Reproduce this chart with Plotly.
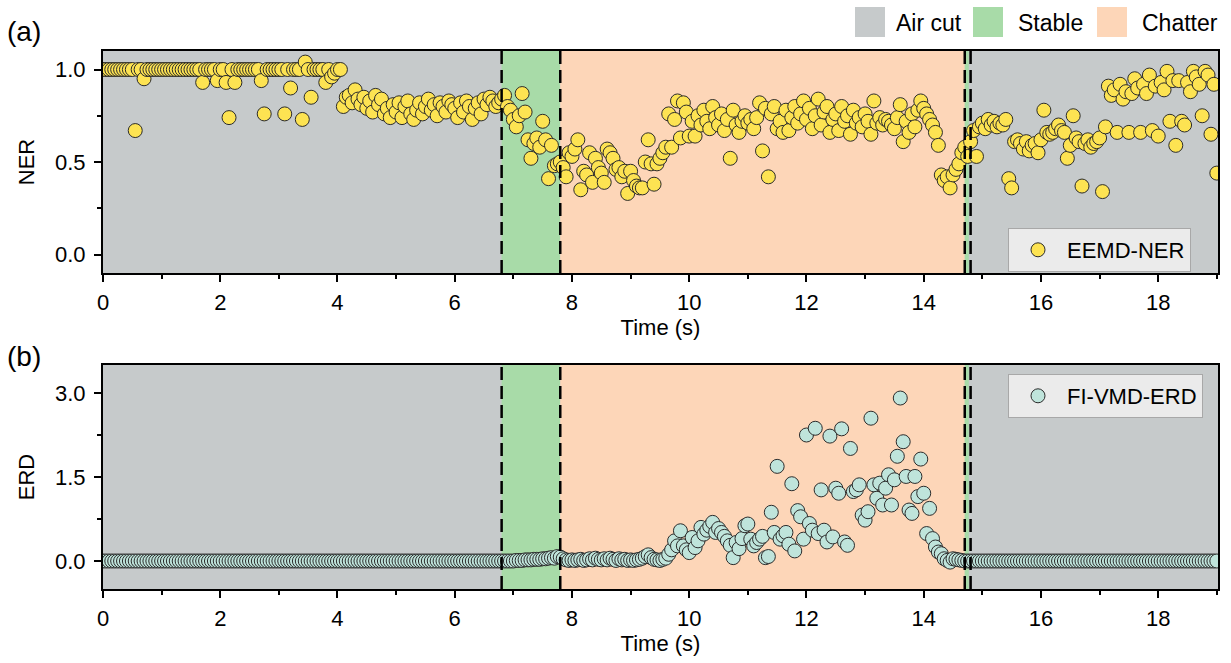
import plotly.graph_objects as go

# ---------------- data ----------------
time_s = [
    0.00, 0.05, 0.10, 0.15, 0.20, 0.25, 0.30, 0.35, 0.40, 0.45, 0.50, 0.55, 0.60, 0.65, 0.70, 0.75, 0.80, 0.85, 0.90, 0.95,
    1.00, 1.05, 1.10, 1.15, 1.20, 1.25, 1.30, 1.35, 1.40, 1.45, 1.50, 1.55, 1.60, 1.65, 1.70, 1.75, 1.80, 1.85, 1.90, 1.95,
    2.00, 2.05, 2.10, 2.15, 2.20, 2.25, 2.30, 2.35, 2.40, 2.45, 2.50, 2.55, 2.60, 2.65, 2.70, 2.75, 2.80, 2.85, 2.90, 2.95,
    3.00, 3.05, 3.10, 3.15, 3.20, 3.25, 3.30, 3.35, 3.40, 3.45, 3.50, 3.55, 3.60, 3.65, 3.70, 3.75, 3.80, 3.85, 3.90, 3.95,
    4.00, 4.05, 4.10, 4.15, 4.20, 4.25, 4.30, 4.35, 4.40, 4.45, 4.50, 4.55, 4.60, 4.65, 4.70, 4.75, 4.80, 4.85, 4.90, 4.95,
    5.00, 5.05, 5.10, 5.15, 5.20, 5.25, 5.30, 5.35, 5.40, 5.45, 5.50, 5.55, 5.60, 5.65, 5.70, 5.75, 5.80, 5.85, 5.90, 5.95,
    6.00, 6.05, 6.10, 6.15, 6.20, 6.25, 6.30, 6.35, 6.40, 6.45, 6.50, 6.55, 6.60, 6.65, 6.70, 6.75, 6.80, 6.85, 6.90, 6.95,
    7.00, 7.05, 7.10, 7.15, 7.20, 7.25, 7.30, 7.35, 7.40, 7.45, 7.50, 7.55, 7.60, 7.65, 7.70, 7.75, 7.80, 7.85, 7.90, 7.95,
    8.00, 8.05, 8.10, 8.15, 8.20, 8.25, 8.30, 8.35, 8.40, 8.45, 8.50, 8.55, 8.60, 8.65, 8.70, 8.75, 8.80, 8.85, 8.90, 8.95,
    9.00, 9.05, 9.10, 9.15, 9.20, 9.25, 9.30, 9.35, 9.40, 9.45, 9.50, 9.55, 9.60, 9.65, 9.70, 9.75, 9.80, 9.85, 9.90, 9.95,
    10.00, 10.05, 10.10, 10.15, 10.20, 10.25, 10.30, 10.35, 10.40, 10.45, 10.50, 10.55, 10.60, 10.65, 10.70, 10.75, 10.80, 10.85, 10.90, 10.95,
    11.00, 11.05, 11.10, 11.15, 11.20, 11.25, 11.30, 11.35, 11.40, 11.45, 11.50, 11.55, 11.60, 11.65, 11.70, 11.75, 11.80, 11.85, 11.90, 11.95,
    12.00, 12.05, 12.10, 12.15, 12.20, 12.25, 12.30, 12.35, 12.40, 12.45, 12.50, 12.55, 12.60, 12.65, 12.70, 12.75, 12.80, 12.85, 12.90, 12.95,
    13.00, 13.05, 13.10, 13.15, 13.20, 13.25, 13.30, 13.35, 13.40, 13.45, 13.50, 13.55, 13.60, 13.65, 13.70, 13.75, 13.80, 13.85, 13.90, 13.95,
    14.00, 14.05, 14.10, 14.15, 14.20, 14.25, 14.30, 14.35, 14.40, 14.45, 14.50, 14.55, 14.60, 14.65, 14.70, 14.75, 14.80, 14.85, 14.90, 14.95,
    15.00, 15.05, 15.10, 15.15, 15.20, 15.25, 15.30, 15.35, 15.40, 15.45, 15.50, 15.55, 15.60, 15.65, 15.70, 15.75, 15.80, 15.85, 15.90, 15.95,
    16.00, 16.05, 16.10, 16.15, 16.20, 16.25, 16.30, 16.35, 16.40, 16.45, 16.50, 16.55, 16.60, 16.65, 16.70, 16.75, 16.80, 16.85, 16.90, 16.95,
    17.00, 17.05, 17.10, 17.15, 17.20, 17.25, 17.30, 17.35, 17.40, 17.45, 17.50, 17.55, 17.60, 17.65, 17.70, 17.75, 17.80, 17.85, 17.90, 17.95,
    18.00, 18.05, 18.10, 18.15, 18.20, 18.25, 18.30, 18.35, 18.40, 18.45, 18.50, 18.55, 18.60, 18.65, 18.70, 18.75, 18.80, 18.85, 18.90, 18.95,
    19.00,
]

eemd_ner = [
    1.0, 1.0, 1.0, 1.0, 1.0, 1.0, 1.0, 1.0, 1.0, 1.0, 1.0, 0.67, 1.0, 1.0, 0.95, 1.0, 1.0, 1.0, 1.0, 1.0,
    1.0, 1.0, 1.0, 1.0, 1.0, 1.0, 1.0, 1.0, 1.0, 1.0, 1.0, 1.0, 1.0, 1.0, 0.93, 1.0, 1.0, 1.0, 1.0, 0.94,
    1.0, 1.0, 0.93, 0.74, 1.0, 0.93, 1.0, 1.0, 1.0, 1.0, 1.0, 1.0, 1.0, 1.0, 0.94, 0.76, 1.0, 1.0, 1.0, 1.0,
    1.0, 1.0, 0.76, 1.0, 0.90, 1.0, 1.0, 1.0, 0.73, 1.04, 1.0, 0.85, 1.0, 1.0, 1.0, 1.0, 0.93, 1.0, 0.96, 0.98,
    1.0, 1.0, 0.80, 0.85, 0.86, 0.82, 0.89, 0.84, 0.81, 0.85, 0.79, 0.83, 0.77, 0.86, 0.81, 0.84, 0.76, 0.79, 0.74, 0.81,
    0.77, 0.82, 0.74, 0.80, 0.83, 0.76, 0.73, 0.78, 0.82, 0.76, 0.80, 0.84, 0.78, 0.81, 0.75, 0.82, 0.80, 0.77, 0.83, 0.81,
    0.79, 0.74, 0.82, 0.77, 0.83, 0.80, 0.73, 0.79, 0.82, 0.76, 0.84, 0.81, 0.85, 0.83, 0.80, 0.82, 0.84, 0.86, 0.80, 0.78,
    0.73, 0.69, 0.75, 0.87, 0.77, 0.62, 0.52, 0.60, 0.63, 0.58, 0.72, 0.62, 0.41, 0.59, 0.48, 0.49, 0.50, 0.47, 0.42, 0.55,
    0.53, 0.57, 0.62, 0.35, 0.45, 0.43, 0.55, 0.39, 0.52, 0.47, 0.44, 0.39, 0.57, 0.55, 0.52, 0.46, 0.47, 0.42, 0.45, 0.33,
    0.45, 0.40, 0.37, 0.36, 0.36, 0.50, 0.62, 0.49, 0.38, 0.49, 0.52, 0.55, 0.58, 0.76, 0.58, 0.73, 0.83, 0.63, 0.82, 0.77,
    0.64, 0.72, 0.64, 0.75, 0.70, 0.78, 0.72, 0.68, 0.80, 0.74, 0.70, 0.76, 0.67, 0.73, 0.52, 0.78, 0.70, 0.66, 0.72, 0.75,
    0.71, 0.73, 0.68, 0.74, 0.82, 0.56, 0.79, 0.42, 0.76, 0.80, 0.68, 0.72, 0.66, 0.78, 0.67, 0.74, 0.80, 0.71, 0.76, 0.83,
    0.73, 0.79, 0.68, 0.75, 0.84, 0.70, 0.77, 0.80, 0.66, 0.73, 0.76, 0.67, 0.80, 0.72, 0.75, 0.65, 0.78, 0.71, 0.74, 0.69,
    0.76, 0.72, 0.65, 0.83, 0.71, 0.74, 0.70, 0.73, 0.72, 0.70, 0.68, 0.74, 0.81, 0.61, 0.72, 0.66, 0.76, 0.69, 0.78, 0.83,
    0.79, 0.76, 0.73, 0.70, 0.66, 0.59, 0.43, 0.40, 0.42, 0.36, 0.43, 0.46, 0.49, 0.55, 0.58, 0.53, 0.61, 0.67, 0.53, 0.69,
    0.71, 0.68, 0.73, 0.70, 0.72, 0.69, 0.71, 0.70, 0.73, 0.41, 0.36, 0.61, 0.62, 0.60, 0.57, 0.61, 0.56, 0.59, 0.60, 0.55,
    0.62, 0.78, 0.66, 0.65, 0.66, 0.68, 0.70, 0.67, 0.66, 0.52, 0.59, 0.75, 0.63, 0.61, 0.37, 0.60, 0.62, 0.58, 0.60, 0.61,
    0.63, 0.34, 0.69, 0.91, 0.86, 0.89, 0.66, 0.92, 0.84, 0.88, 0.66, 0.87, 0.95, 0.90, 0.66, 0.92, 0.87, 0.97, 0.67, 0.91,
    0.64, 0.93, 0.89, 0.99, 0.72, 0.94, 0.59, 0.94, 0.72, 0.70, 0.93, 0.88, 0.99, 0.96, 0.92, 0.75, 0.99, 0.97, 0.65, 0.92,
    0.44,
]

fivmd_erd = [
    0.0, 0.0, 0.0, 0.0, 0.0, 0.0, 0.0, 0.0, 0.0, 0.0, 0.0, 0.0, 0.0, 0.0, 0.0, 0.0, 0.0, 0.0, 0.0, 0.0,
    0.0, 0.0, 0.0, 0.0, 0.0, 0.0, 0.0, 0.0, 0.0, 0.0, 0.0, 0.0, 0.0, 0.0, 0.0, 0.0, 0.0, 0.0, 0.0, 0.0,
    0.0, 0.0, 0.0, 0.0, 0.0, 0.0, 0.0, 0.0, 0.0, 0.0, 0.0, 0.0, 0.0, 0.0, 0.0, 0.0, 0.0, 0.0, 0.0, 0.0,
    0.0, 0.0, 0.0, 0.0, 0.0, 0.0, 0.0, 0.0, 0.0, 0.0, 0.0, 0.0, 0.0, 0.0, 0.0, 0.0, 0.0, 0.0, 0.0, 0.0,
    0.0, 0.0, 0.0, 0.0, 0.0, 0.0, 0.0, 0.0, 0.0, 0.0, 0.0, 0.0, 0.0, 0.0, 0.0, 0.0, 0.0, 0.0, 0.0, 0.0,
    0.0, 0.0, 0.0, 0.0, 0.0, 0.0, 0.0, 0.0, 0.0, 0.0, 0.0, 0.0, 0.0, 0.0, 0.0, 0.0, 0.0, 0.0, 0.0, 0.0,
    0.0, 0.0, 0.0, 0.0, 0.0, 0.0, 0.0, 0.0, 0.0, 0.0, 0.0, 0.0, 0.0, 0.0, 0.0, 0.0, 0.0, 0.0, 0.0, 0.0,
    0.0, 0.01, 0.01, 0.01, 0.02, 0.02, 0.02, 0.03, 0.03, 0.03, 0.04, 0.04, 0.05, 0.06, 0.05, 0.08, 0.07, 0.04, 0.02, 0.01,
    0.02, 0.01, 0.02, 0.03, 0.01, 0.02, 0.04, 0.02, 0.05, 0.03, 0.02, 0.04, 0.02, 0.05, 0.03, 0.01, 0.04, 0.02, 0.03, 0.01,
    0.02, 0.01, 0.02, 0.03, 0.05, 0.08, 0.11, 0.06, 0.03, 0.02, 0.01, 0.03, 0.05, 0.12, 0.20, 0.36, 0.27, 0.54, 0.27, 0.20,
    0.15, 0.42, 0.24, 0.36, 0.60, 0.48, 0.55, 0.62, 0.69, 0.51, 0.58, 0.51, 0.44, 0.36, 0.28, 0.06, 0.33, 0.22, 0.40, 0.63,
    0.66, 0.39, 0.27, 0.33, 0.39, 0.44, 0.06, 0.08, 0.87, 0.51, 1.69, 0.39, 0.45, 0.51, 0.30, 1.38, 0.18, 0.90, 0.79, 0.39,
    2.25, 0.67, 0.55, 2.37, 0.49, 1.27, 0.55, 0.34, 2.23, 0.43, 1.30, 1.21, 2.36, 0.34, 0.28, 2.01, 1.24, 1.27, 1.36, 0.82,
    0.73, 0.88, 2.55, 1.36, 1.12, 1.39, 1.00, 1.30, 1.54, 1.00, 1.45, 1.87, 2.91, 2.13, 1.51, 0.91, 0.85, 1.51, 1.15, 1.82,
    1.21, 0.49, 0.94, 0.40, 0.25, 0.16, 0.13, 0.04, 0.01, -0.02, 0.04, 0.03, 0.02, 0.01, 0.0, 0.0, 0.0, 0.0, 0.0, 0.0,
    0.0, 0.0, 0.0, 0.0, 0.0, 0.0, 0.0, 0.0, 0.0, 0.0, 0.0, 0.0, 0.0, 0.0, 0.0, 0.0, 0.0, 0.0, 0.0, 0.0,
    0.0, 0.0, 0.0, 0.0, 0.0, 0.0, 0.0, 0.0, 0.0, 0.0, 0.0, 0.0, 0.0, 0.0, 0.0, 0.0, 0.0, 0.0, 0.0, 0.0,
    0.0, 0.0, 0.0, 0.0, 0.0, 0.0, 0.0, 0.0, 0.0, 0.0, 0.0, 0.0, 0.0, 0.0, 0.0, 0.0, 0.0, 0.0, 0.0, 0.0,
    0.0, 0.0, 0.0, 0.0, 0.0, 0.0, 0.0, 0.0, 0.0, 0.0, 0.0, 0.0, 0.0, 0.0, 0.0, 0.0, 0.0, 0.0, 0.0, 0.0,
    0.0,
]

# machining states (start, end, label)
state_spans = [(0.0, 6.8, "Air cut"), (6.8, 7.8, "Stable"), (7.8, 14.7, "Chatter"),
               (14.7, 14.77, "Stable"), (14.77, 19.02, "Air cut")]
boundaries = [6.8, 7.8, 14.7, 14.8]
state_names = ["Air cut", "Stable", "Chatter"]

# ---------------- style ----------------
FONT = "Arial, Liberation Sans, sans-serif"
FS = 22
state_colors = {"Air cut": "#C6CACB", "Stable": "#A8DBA8", "Chatter": "#FDD6B8"}
W, H = 1231, 663
ML, MR, MT, MB = 103, 13, 51, 74
PW, PH = W - ML - MR, H - MT - MB

def px_x(px):
    return (px - ML) / PW

def px_y(py):
    return (H - MB - py) / PH

fig = go.Figure()

fig.add_trace(go.Scatter(
    x=time_s, y=eemd_ner, mode="markers", name="EEMD-NER",
    marker=dict(size=14, color="#FDE352", line=dict(color="#2B2B2B", width=1)),
    xaxis="x", yaxis="y", legend="legend",
))
fig.add_trace(go.Scatter(
    x=time_s, y=fivmd_erd, mode="markers", name="FI-VMD-ERD",
    marker=dict(size=14, color="#BFE4DB", line=dict(color="#2B2B2B", width=1)),
    xaxis="x2", yaxis="y2", legend="legend2",
))

shapes = []
for xr, yr in (("x", "y"), ("x2", "y2")):
    for a, b, lab in state_spans:
        shapes.append(dict(type="rect", xref=xr, yref=f"{yr} domain", x0=a, x1=b, y0=0, y1=1,
                           fillcolor=state_colors[lab], line=dict(width=0), layer="below"))
    for bx in boundaries:
        shapes.append(dict(type="line", xref=xr, yref=f"{yr} domain", x0=bx, x1=bx, y0=0, y1=1,
                           line=dict(color="black", width=2.5, dash="13px,6px"), layer="above"))

# top legend of states (swatches + text)
annotations = []
sw_left = [855, 973, 1097]
txt_left = [894, 1016, 1140]
for name, sl, tl in zip(state_names, sw_left, txt_left):
    shapes.append(dict(type="rect", xref="paper", yref="paper", x0=px_x(sl), x1=px_x(sl + 30),
                       y0=px_y(37), y1=px_y(7), fillcolor=state_colors[name], line=dict(width=0)))
    annotations.append(dict(text=name, xref="paper", yref="paper", x=px_x(tl), y=px_y(23),
                            xanchor="left", yanchor="middle", showarrow=False,
                            font=dict(family=FONT, size=23, color="black")))

annotations.append(dict(text="(a)", xref="paper", yref="paper", x=px_x(5), y=px_y(31),
                        xanchor="left", yanchor="middle", showarrow=False,
                        font=dict(family=FONT, size=28, color="black")))
annotations.append(dict(text="(b)", xref="paper", yref="paper", x=px_x(5), y=px_y(357),
                        xanchor="left", yanchor="middle", showarrow=False,
                        font=dict(family=FONT, size=28, color="black")))

axis_common = dict(showline=True, linecolor="black", linewidth=2, mirror=True,
                   ticks="outside", ticklen=7, tickwidth=2, tickcolor="black",
                   showgrid=False, zeroline=False,
                   tickfont=dict(family=FONT, size=FS, color="black"))

xcommon = dict(axis_common, range=[0, 19.02], tick0=0, dtick=2,
               minor=dict(dtick=1, ticks="outside", ticklen=4, tickwidth=2, tickcolor="black"),
               ticklabelstandoff=2,
               title=dict(text="Time (s)", font=dict(family=FONT, size=FS, color="black"), standoff=4))

ycommon_title = dict(font=dict(family=FONT, size=FS, color="black"), standoff=14)

legend_common = dict(xanchor="left", yanchor="top", itemwidth=48,
                     bgcolor="#EBEBEB", bordercolor="#A8A8A8", borderwidth=1,
                     font=dict(family=FONT, size=FS, color="black"))

fig.update_layout(
    width=W, height=H,
    margin=dict(l=ML, r=MR, t=MT, b=MB),
    paper_bgcolor="white", plot_bgcolor="#C6CACB",
    xaxis=dict(xcommon, domain=[0, 1], anchor="y"),
    yaxis=dict(axis_common, domain=[px_y(273), 1.0], anchor="x", range=[-0.1, 1.1],
               tickvals=[0.0, 0.5, 1.0], ticktext=["0.0", "0.5", "1.0"], ticklabelstandoff=4,
               minor=dict(tickvals=[0.25, 0.75], ticks="outside", ticklen=4, tickwidth=2, tickcolor="black"),
               title=dict(ycommon_title, text="NER")),
    xaxis2=dict(xcommon, domain=[0, 1], anchor="y2"),
    yaxis2=dict(axis_common, domain=[0.0, px_y(365)], anchor="x2", range=[-0.5, 3.5],
                tickvals=[0.0, 1.5, 3.0], ticktext=["0.0", "1.5", "3.0"], ticklabelstandoff=4,
                minor=dict(tickvals=[0.75, 2.25], ticks="outside", ticklen=4, tickwidth=2, tickcolor="black"),
                title=dict(ycommon_title, text="ERD")),
    legend=dict(legend_common, x=px_x(1008), y=px_y(228)),
    legend2=dict(legend_common, x=px_x(1008), y=px_y(374)),
    shapes=shapes,
    annotations=annotations,
    showlegend=True,
)

fig.write_html("out.html")
